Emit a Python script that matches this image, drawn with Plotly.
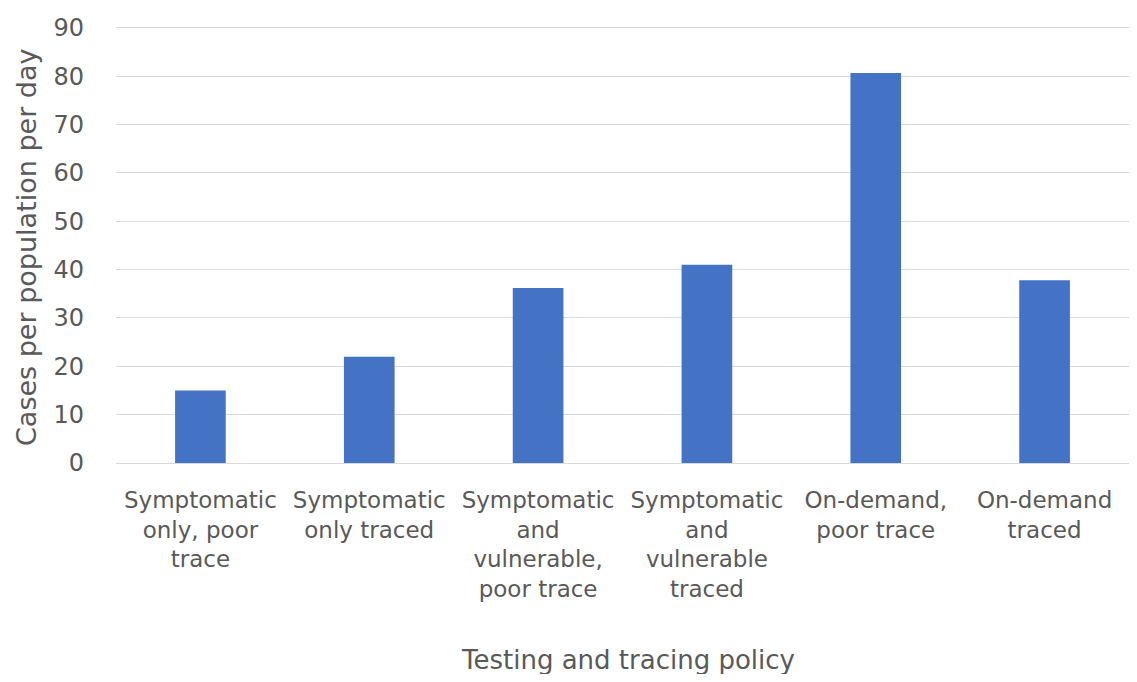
import plotly.graph_objects as go

categories = [
    "Symptomatic<br>only, poor<br>trace",
    "Symptomatic<br>only traced",
    "Symptomatic<br>and<br>vulnerable,<br>poor trace",
    "Symptomatic<br>and<br>vulnerable<br>traced",
    "On-demand,<br>poor trace",
    "On-demand<br>traced",
]
cases = [15, 22, 36.2, 41, 80.7, 37.8]
y_ticks = [0, 10, 20, 30, 40, 50, 60, 70, 80, 90]

x_title = "Testing and tracing policy"
y_title = "Cases per population per day"

FONT = "DejaVu Sans"
GRAY = "#595959"

fig = go.Figure(
    go.Bar(x=categories, y=cases, marker=dict(color="#4472C4", line=dict(width=0)))
)

# page offset of 8px (body margin) compensated
W, H = 1125, 666
L, R, T, B = 108, 4, 18, 211
pw = W - L - R
ph = H - T - B
OFF = 8

fig.update_layout(
    width=W, height=H,
    margin=dict(l=L, r=R, t=T, b=B),
    paper_bgcolor="white", plot_bgcolor="white",
    bargap=0.7,
    showlegend=False,
    font=dict(family=FONT, color=GRAY, size=22),
)
fig.update_xaxes(
    showgrid=False, showline=True, linecolor="#d9d9d9", linewidth=1,
    tickfont=dict(family=FONT, size=23, color=GRAY),
    ticks="", ticklabelstandoff=16, tickangle=0,
)
fig.update_yaxes(
    range=[0, 90.4], tickvals=y_ticks, showgrid=True, gridcolor="#d9d9d9", gridwidth=1,
    zeroline=False, showline=False,
    tickfont=dict(family=FONT, size=24, color=GRAY),
    ticks="", ticklabelstandoff=31,
)
fig.add_annotation(
    text=x_title, xref="paper", yref="paper",
    x=(628 - OFF - L) / pw, y=-(660 - OFF - (T + ph)) / ph,
    xanchor="center", yanchor="middle", showarrow=False,
    font=dict(family=FONT, size=26, color=GRAY),
)
fig.add_annotation(
    text=y_title, xref="paper", yref="paper",
    x=(26 - OFF - L) / pw, y=(463 - 247) / ph,
    xanchor="center", yanchor="middle", showarrow=False, textangle=-90,
    font=dict(family=FONT, size=27, color=GRAY),
)
fig.write_html("out.html")
